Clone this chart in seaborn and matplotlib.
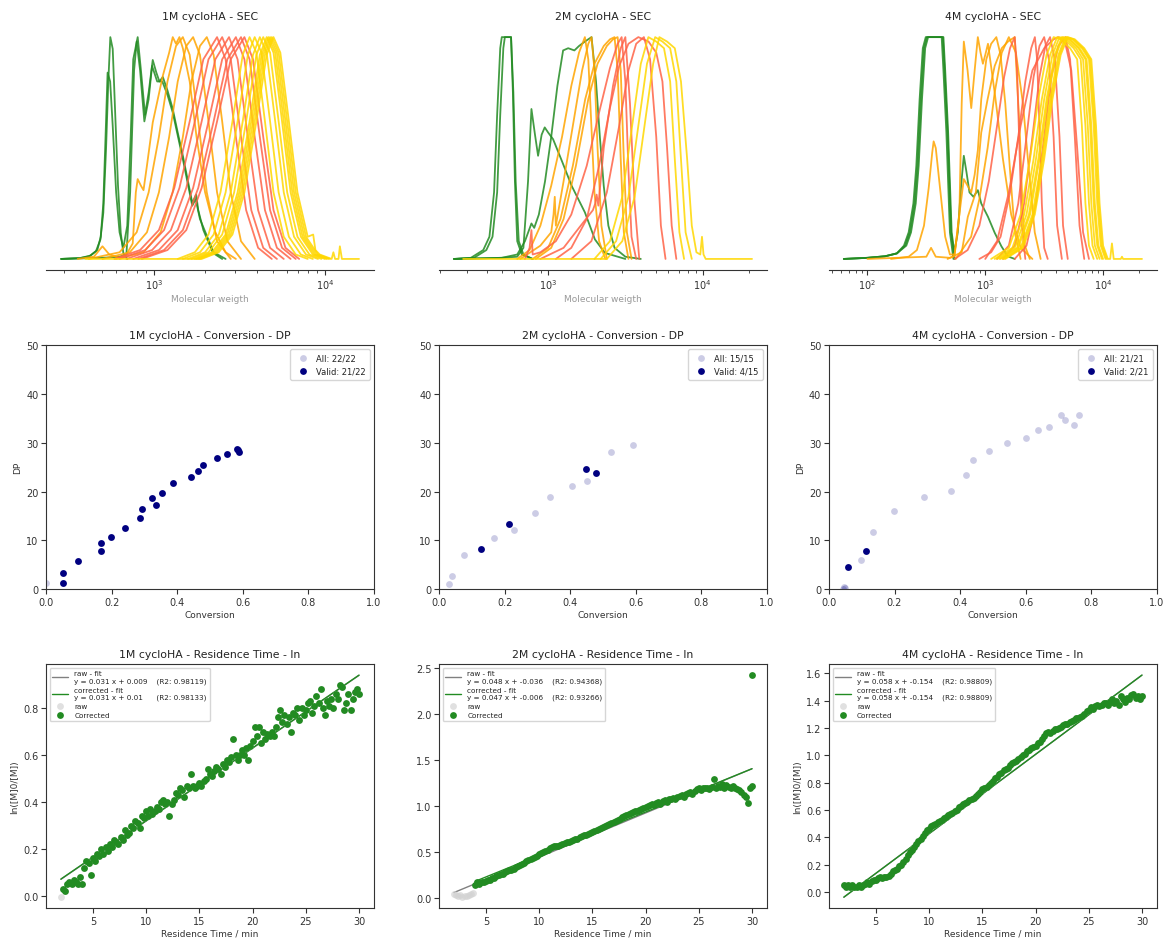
import numpy as np
import pandas as pd
import matplotlib
matplotlib.use("Agg")
import matplotlib.pyplot as plt
import seaborn as sns

GREEN = "forestgreen"
ORANGE = "orange"
RED = "tomato"
GOLD = "gold"

samples = ["1M", "2M", "4M"]

# ---------------------------------------------------------------------------
# SEC traces: knots, log10(MW) and normalised signal
# ---------------------------------------------------------------------------
orange_h_1m = [0, 0.03, 0.12, 0.3, 0.55, 0.8, 0.96, 1.0, 0.92, 0.62, 0.3, 0.08, 0]
red_h_1m = [0, 0.04, 0.13, 0.32, 0.62, 0.9, 1.0, 0.9, 0.55, 0.22, 0.05, 0]
gold_h_1m = [0, 0.03, 0.11, 0.3, 0.62, 0.92, 1.0, 0.93, 0.62, 0.3, 0.1, 0.02, 0]

sec_1m = [
    (GREEN, [2.457, 2.564, 2.623, 2.662, 2.688, 2.705, 2.721, 2.734, 2.746, 2.760, 2.775, 2.791, 2.807, 2.822, 2.845],
     [0, 0.003, 0.012, 0.035, 0.087, 0.208, 0.495, 0.796, 1.0, 0.947, 0.646, 0.329, 0.118, 0.027, 0]),
    (GREEN, [2.46, 2.57, 2.63, 2.67, 2.69, 2.705, 2.718, 2.730, 2.745, 2.76, 2.78, 2.80, 2.822, 2.845, 2.865,
             2.88, 2.906, 2.925, 2.949, 2.97, 2.994, 3.015, 3.033, 3.053, 3.08, 3.111, 3.14, 3.17, 3.20, 3.225,
             3.248, 3.26, 3.29, 3.346, 3.40],
     [0, 0.004, 0.015, 0.04, 0.1, 0.25, 0.55, 0.84, 0.8, 0.6, 0.3, 0.12, 0.05, 0.15, 0.55,
      0.9, 1.0, 0.85, 0.65, 0.75, 0.897, 0.84, 0.80, 0.82, 0.76, 0.676, 0.57, 0.465, 0.35, 0.253,
      0.29, 0.22, 0.13, 0.027, 0]),
    (GREEN, [2.46, 2.70, 2.80, 2.84, 2.862, 2.885, 2.90, 2.92, 2.945, 2.97, 2.99, 3.02, 3.05, 3.08, 3.111,
             3.17, 3.225, 3.245, 3.27, 3.35, 3.42],
     [0, 0.005, 0.01, 0.02, 0.3, 0.85, 0.98, 0.85, 0.62, 0.72, 0.87, 0.80, 0.80, 0.74, 0.66,
      0.45, 0.24, 0.27, 0.18, 0.03, 0]),
    (ORANGE, [2.555, 2.65, 2.70, 2.74, 2.80, 2.84, 2.877, 2.895, 2.906, 2.925, 2.94, 2.96, 2.994, 3.053, 3.09,
              3.111, 3.13, 3.15, 3.17, 3.21, 3.25, 3.30, 3.36, 3.42, 3.48],
     [0, 0.01, 0.057, 0.02, 0.005, 0.02, 0.07, 0.3, 0.36, 0.33, 0.31, 0.42, 0.615, 0.826, 0.93,
      1.0, 0.97, 1.0, 0.95, 0.8, 0.55, 0.3, 0.12, 0.03, 0]),
    (ORANGE, [2.62, 2.80, 2.90, 2.97, 3.03, 3.08, 3.13, 3.17, 3.21, 3.26, 3.31, 3.37, 3.45], orange_h_1m),
    (ORANGE, [2.70, 2.86, 2.96, 3.03, 3.09, 3.14, 3.19, 3.23, 3.27, 3.32, 3.37, 3.43, 3.51], orange_h_1m),
    (ORANGE, [2.78, 2.94, 3.04, 3.11, 3.17, 3.22, 3.27, 3.31, 3.35, 3.40, 3.45, 3.51, 3.59], orange_h_1m),
    (RED, [2.77, 2.92, 3.03, 3.12, 3.21, 3.29, 3.37, 3.42, 3.48, 3.54, 3.61, 3.69], red_h_1m),
    (RED, [2.80, 2.95, 3.06, 3.15, 3.24, 3.32, 3.40, 3.45, 3.51, 3.57, 3.64, 3.72], red_h_1m),
    (RED, [2.84, 2.99, 3.10, 3.19, 3.28, 3.36, 3.44, 3.49, 3.55, 3.61, 3.68, 3.76], red_h_1m),
    (RED, [2.88, 3.03, 3.14, 3.23, 3.32, 3.40, 3.48, 3.53, 3.59, 3.65, 3.72, 3.80], red_h_1m),
    (RED, [2.91, 3.06, 3.17, 3.26, 3.35, 3.43, 3.51, 3.56, 3.62, 3.68, 3.75, 3.83], red_h_1m),
    (RED, [2.93, 3.08, 3.19, 3.28, 3.37, 3.45, 3.53, 3.58, 3.64, 3.70, 3.77, 3.85], red_h_1m),
    (GOLD, [3.14, 3.24, 3.32, 3.39, 3.46, 3.52, 3.56, 3.60, 3.65, 3.70, 3.76, 3.83, 3.90], gold_h_1m),
    (GOLD, [3.17, 3.27, 3.35, 3.42, 3.49, 3.55, 3.59, 3.63, 3.68, 3.73, 3.79, 3.86, 3.93], gold_h_1m),
    (GOLD, [3.20, 3.30, 3.38, 3.45, 3.52, 3.58, 3.62, 3.66, 3.71, 3.76, 3.82, 3.89, 3.96], gold_h_1m),
    (GOLD, [3.22, 3.32, 3.40, 3.47, 3.54, 3.60, 3.64, 3.68, 3.73, 3.78, 3.84, 3.91, 3.98], gold_h_1m),
    (GOLD, [3.24, 3.34, 3.42, 3.49, 3.56, 3.62, 3.66, 3.70, 3.75, 3.80, 3.86, 3.93, 4.00], gold_h_1m),
    (GOLD, [3.25, 3.35, 3.43, 3.50, 3.57, 3.63, 3.67, 3.71, 3.76, 3.81, 3.87, 3.94, 4.01], gold_h_1m),
    (GOLD, [3.26, 3.36, 3.44, 3.51, 3.58, 3.64, 3.68, 3.72, 3.77, 3.82, 3.88, 3.95, 4.02], gold_h_1m),
    (GOLD, [3.27, 3.37, 3.45, 3.52, 3.59, 3.65, 3.69, 3.73, 3.78, 3.83, 3.89, 3.96, 4.03], gold_h_1m),
    (GOLD, [2.60, 3.28, 3.38, 3.46, 3.53, 3.60, 3.66, 3.70, 3.74, 3.79, 3.84, 3.90, 3.932, 3.945, 3.97,
            4.04, 4.05, 4.06, 4.08, 4.088, 4.10, 4.20],
     [0, 0, 0.03, 0.11, 0.3, 0.62, 0.92, 1.0, 0.93, 0.62, 0.3, 0.1, 0.11, 0.04, 0.02,
      0, 0.03, 0, 0, 0.057, 0, 0]),
]

plateau_h_2m = [0, 0.005, 0.04, 0.1, 0.3, 0.65, 0.95, 1.0, 1.0, 0.75, 0.35, 0.08, 0.02, 0]
orange_h_2m = [0, 0.05, 0.18, 0.42, 0.72, 0.88, 0.96, 0.99, 1.0, 0.85, 0.45, 0.12, 0]
red_h_2m = [0, 0.08, 0.3, 0.6, 0.85, 0.97, 1.0, 0.9, 0.55, 0.15, 0]
gold_h_2m = [0, 0.08, 0.28, 0.58, 0.88, 1.0, 0.98, 0.95, 0.8, 0.45, 0.12, 0]

sec_2m = [
    (GREEN, [2.39, 2.50, 2.58, 2.62, 2.65, 2.67, 2.69, 2.70, 2.76, 2.775, 2.79, 2.81, 2.84, 2.90], plateau_h_2m),
    (GREEN, [2.40, 2.52, 2.60, 2.64, 2.67, 2.69, 2.71, 2.72, 2.76, 2.772, 2.785, 2.80, 2.83, 2.90], plateau_h_2m),
    (GREEN, [2.39, 2.70, 2.80, 2.84, 2.87, 2.892, 2.915, 2.935, 2.958, 2.978, 3.0, 3.032, 3.09, 3.152, 3.238,
             3.303, 3.368, 3.50],
     [0, 0.005, 0.01, 0.05, 0.35, 0.676, 0.56, 0.465, 0.56, 0.593, 0.57, 0.54, 0.44, 0.33, 0.21,
      0.088, 0.027, 0]),
    (GREEN, [2.39, 2.70, 2.80, 2.85, 2.892, 2.91, 2.94, 2.98, 3.02, 3.06, 3.097, 3.13, 3.17, 3.20, 3.238,
             3.281, 3.31, 3.335, 3.36, 3.39, 3.43, 3.50, 3.60],
     [0, 0.005, 0.02, 0.08, 0.16, 0.14, 0.2, 0.35, 0.55, 0.78, 0.94, 0.95, 0.94, 0.96, 0.98,
      1.0, 0.8, 0.55, 0.33, 0.15, 0.05, 0.01, 0]),
    (ORANGE, [2.80, 2.88, 2.95, 3.02, 3.09, 3.15, 3.20, 3.238, 3.26, 3.28, 3.30, 3.33, 3.37],
     [0, 0.04, 0.15, 0.33, 0.55, 0.78, 0.93, 1.0, 0.9, 0.6, 0.3, 0.08, 0]),
    (ORANGE, [2.82, 2.95, 3.02, 3.035, 3.043, 3.05, 3.10, 3.16, 3.22, 3.26, 3.281, 3.30, 3.32, 3.345, 3.38],
     [0, 0.06, 0.12, 0.2, 0.28, 0.15, 0.35, 0.6, 0.85, 0.97, 1.0, 0.85, 0.5, 0.15, 0]),
    (ORANGE, [2.90, 3.0, 3.08, 3.16, 3.24, 3.30, 3.36, 3.40, 3.43, 3.45, 3.47, 3.49, 3.52], orange_h_2m),
    (ORANGE, [2.92, 3.02, 3.10, 3.18, 3.26, 3.32, 3.38, 3.42, 3.45, 3.47, 3.49, 3.51, 3.54], orange_h_2m),
    (RED, [2.85, 2.88, 2.892, 2.90, 2.95, 3.05, 3.15, 3.25, 3.33, 3.40, 3.45, 3.476, 3.50, 3.52, 3.54, 3.57],
     [0, 0.05, 0.13, 0.02, 0.03, 0.08, 0.2, 0.42, 0.66, 0.86, 0.97, 1.0, 0.8, 0.4, 0.1, 0]),
    (RED, [2.95, 3.10, 3.20, 3.29, 3.305, 3.314, 3.325, 3.36, 3.42, 3.47, 3.50, 3.53, 3.56, 3.59],
     [0, 0.05, 0.14, 0.22, 0.25, 0.29, 0.24, 0.5, 0.78, 0.95, 1.0, 0.7, 0.25, 0]),
    (RED, [3.05, 3.15, 3.25, 3.33, 3.40, 3.46, 3.52, 3.584, 3.65, 3.70, 3.74, 3.77, 3.80, 3.83],
     [0, 0.05, 0.18, 0.42, 0.68, 0.87, 0.97, 1.0, 0.98, 0.93, 0.8, 0.5, 0.15, 0]),
    (RED, [3.15, 3.28, 3.38, 3.46, 3.52, 3.57, 3.62, 3.66, 3.70, 3.73, 3.76], red_h_2m),
    (GOLD, [3.30, 3.40, 3.48, 3.54, 3.60, 3.649, 3.70, 3.75, 3.79, 3.82, 3.85, 3.88], gold_h_2m),
    (GOLD, [3.34, 3.44, 3.52, 3.58, 3.64, 3.693, 3.74, 3.79, 3.83, 3.86, 3.89, 3.93], gold_h_2m),
    (GOLD, [2.45, 3.38, 3.48, 3.56, 3.62, 3.68, 3.72, 3.77, 3.82, 3.86, 3.90, 3.93, 3.96, 3.985, 3.996,
            4.006, 4.02, 4.32],
     [0, 0, 0.08, 0.28, 0.58, 0.88, 1.0, 0.98, 0.95, 0.8, 0.45, 0.15, 0.03, 0.02, 0.1,
      0.02, 0, 0]),
]

plateau_h_4m = [0, 0.005, 0.012, 0.025, 0.06, 0.12, 0.25, 0.42, 0.72, 0.95, 1.0, 1.0, 0.85, 0.57, 0.12, 0]
red_h_4m = [0, 0.06, 0.25, 0.55, 0.82, 0.96, 1.0, 0.9, 0.55, 0.15, 0]
gold_h_4m = [0, 0.05, 0.2, 0.45, 0.72, 0.92, 1.0, 0.99, 0.95, 0.9, 0.6, 0.25, 0.06, 0]

sec_4m = [
    (GREEN, [1.80, 2.0, 2.15, 2.25, 2.32, 2.36, 2.40, 2.425, 2.453, 2.48, 2.505, 2.64, 2.655, 2.68, 2.71, 2.74],
     plateau_h_4m),
    (GREEN, [1.80, 2.0, 2.15, 2.25, 2.31, 2.35, 2.39, 2.415, 2.443, 2.47, 2.495, 2.63, 2.645, 2.67, 2.70, 2.73],
     plateau_h_4m),
    (GREEN, [1.80, 2.0, 2.15, 2.25, 2.33, 2.37, 2.41, 2.435, 2.463, 2.49, 2.515, 2.645, 2.66, 2.685, 2.715,
             2.738, 2.767, 2.795, 2.818, 2.841, 2.866, 2.90, 2.937, 2.966, 3.023, 3.08, 3.137, 3.19, 3.25],
     [0, 0.005, 0.012, 0.025, 0.06, 0.12, 0.25, 0.42, 0.72, 0.95, 1.0, 1.0, 0.85, 0.57, 0.12,
      0.03, 0.12, 0.33, 0.465, 0.39, 0.30, 0.28, 0.31, 0.25, 0.19, 0.118, 0.057, 0.012, 0]),
    (ORANGE, [2.20, 2.35, 2.42, 2.48, 2.52, 2.55, 2.562, 2.58, 2.62, 2.66, 2.70, 2.74, 2.78, 2.80, 2.818,
              2.85, 2.881, 2.91, 2.937, 2.96, 2.98, 3.0, 3.023, 3.08, 3.15, 3.22, 3.30, 3.40],
     [0, 0.01, 0.04, 0.15, 0.32, 0.48, 0.53, 0.5, 0.3, 0.1, 0.02, 0.02, 0.2, 0.7, 0.98,
      0.85, 0.68, 0.85, 1.0, 0.93, 0.88, 0.92, 0.97, 0.75, 0.45, 0.2, 0.05, 0]),
    (ORANGE, [2.00, 2.50, 2.54, 2.58, 2.70, 2.738, 2.78, 2.818, 2.85, 2.881, 2.91, 2.937, 2.966, 3.009, 3.05,
              3.094, 3.13, 3.17, 3.21, 3.25, 3.30],
     [0, 0.01, 0.05, 0.01, 0.005, 0.012, 0.2, 0.36, 0.33, 0.30, 0.38, 0.49, 0.72, 0.9, 0.97,
      1.0, 0.92, 0.7, 0.4, 0.12, 0]),
    (ORANGE, [2.68, 2.80, 2.852, 2.92, 2.966, 3.02, 3.08, 3.14, 3.193, 3.25, 3.27, 3.293, 3.315, 3.336, 3.378],
     [0, 0.03, 0.19, 0.3, 0.57, 0.72, 0.87, 0.95, 0.98, 1.0, 0.8, 0.57, 0.25, 0.06, 0]),
    (ORANGE, [2.75, 2.88, 2.95, 3.02, 3.08, 3.14, 3.20, 3.26, 3.32, 3.37, 3.42, 3.47],
     [0, 0.1, 0.27, 0.5, 0.75, 0.93, 1.0, 0.93, 0.7, 0.4, 0.12, 0]),
    (RED, [2.74, 2.85, 2.95, 3.03, 3.10, 3.16, 3.21, 3.25, 3.27, 3.29, 3.31, 3.34],
     [0, 0.04, 0.15, 0.35, 0.6, 0.82, 0.95, 1.0, 0.85, 0.5, 0.15, 0]),
    (RED, [2.95, 3.05, 3.13, 3.21, 3.28, 3.34, 3.39, 3.421, 3.44, 3.46, 3.48, 3.50, 3.53],
     [0, 0.03, 0.1, 0.3, 0.55, 0.8, 0.95, 1.0, 0.9, 0.6, 0.25, 0.05, 0]),
    (RED, [3.10, 3.20, 3.28, 3.35, 3.41, 3.46, 3.50, 3.54, 3.58, 3.61, 3.65], red_h_4m),
    (RED, [3.0, 3.10, 3.20, 3.30, 3.40, 3.50, 3.58, 3.62, 3.68, 3.73, 3.78, 3.83, 3.88],
     [0, 0.08, 0.3, 0.6, 0.85, 0.95, 0.99, 1.0, 0.97, 0.85, 0.5, 0.12, 0]),
    (RED, [3.15, 3.25, 3.33, 3.40, 3.46, 3.51, 3.55, 3.59, 3.63, 3.66, 3.70], red_h_4m),
    (RED, [3.25, 3.35, 3.43, 3.50, 3.56, 3.62, 3.68, 3.72, 3.76, 3.80, 3.84], red_h_4m),
    (GOLD, [3.05, 3.20, 3.30, 3.38, 3.45, 3.52, 3.58, 3.64, 3.72, 3.78, 3.82, 3.85, 3.88, 3.92], gold_h_4m),
    (GOLD, [3.08, 3.23, 3.33, 3.41, 3.48, 3.55, 3.61, 3.67, 3.75, 3.81, 3.85, 3.88, 3.91, 3.95], gold_h_4m),
    (GOLD, [3.10, 3.25, 3.35, 3.43, 3.50, 3.57, 3.63, 3.69, 3.77, 3.83, 3.87, 3.90, 3.93, 3.97], gold_h_4m),
    (GOLD, [3.12, 3.27, 3.37, 3.45, 3.52, 3.59, 3.65, 3.71, 3.79, 3.85, 3.89, 3.92, 3.95, 3.99], gold_h_4m),
    (GOLD, [3.13, 3.28, 3.38, 3.46, 3.53, 3.60, 3.66, 3.72, 3.80, 3.86, 3.90, 3.93, 3.96, 4.00], gold_h_4m),
    (GOLD, [3.15, 3.30, 3.40, 3.48, 3.55, 3.62, 3.68, 3.74, 3.82, 3.88, 3.92, 3.95, 3.98, 4.02], gold_h_4m),
    (GOLD, [3.16, 3.31, 3.41, 3.49, 3.56, 3.63, 3.69, 3.75, 3.83, 3.89, 3.93, 3.96, 3.99, 4.03], gold_h_4m),
    (GOLD, [3.17, 3.32, 3.42, 3.50, 3.57, 3.64, 3.70, 3.76, 3.84, 3.90, 3.94, 3.97, 4.00, 4.04, 4.06,
            4.075, 4.09, 4.15, 4.16, 4.17, 4.33],
     [0, 0.05, 0.2, 0.45, 0.72, 0.92, 1.0, 0.99, 0.95, 0.9, 0.6, 0.25, 0.06, 0, 0,
      0.07, 0, 0, 0.01, 0, 0]),
]

# ---------------------------------------------------------------------------
# Conversion vs DP
# ---------------------------------------------------------------------------
conv_1m = [0.0, 0.051, 0.052, 0.099, 0.168, 0.169, 0.198, 0.240, 0.287, 0.294, 0.324, 0.336,
           0.355, 0.388, 0.443, 0.464, 0.480, 0.521, 0.553, 0.582, 0.584, 0.588]
dp_1m = [1.2, 1.3, 3.3, 5.9, 7.8, 9.4, 10.7, 12.6, 14.7, 16.4, 18.6, 17.3,
         19.8, 21.8, 22.9, 24.3, 25.4, 26.8, 27.6, 28.7, 28.6, 28.2]
valid_1m = [0, 1, 1, 1, 1, 1, 1, 1, 1, 1, 1, 1, 1, 1, 1, 1, 1, 1, 1, 1, 1, 1]

conv_2m = [0.032, 0.040, 0.075, 0.127, 0.169, 0.213, 0.229, 0.294, 0.338, 0.407, 0.448, 0.452,
           0.479, 0.524, 0.592]
dp_2m = [1.1, 2.8, 7.0, 8.2, 10.5, 13.4, 12.1, 15.6, 18.8, 21.1, 24.6, 22.2, 23.9, 28.2, 29.5]
valid_2m = [0, 0, 0, 1, 0, 1, 0, 0, 0, 0, 1, 0, 1, 0, 0]

conv_4m = [0.043, 0.045, 0.048, 0.058, 0.097, 0.112, 0.134, 0.198, 0.291, 0.373, 0.418, 0.440,
           0.488, 0.544, 0.600, 0.636, 0.670, 0.709, 0.720, 0.747, 0.762]
dp_4m = [0.0, 0.55, 0.2, 4.5, 6.0, 7.9, 11.8, 16.0, 19.0, 20.2, 23.5, 26.4,
         28.4, 30.0, 31.0, 32.7, 33.2, 35.6, 34.7, 33.6, 35.6]
valid_4m = [0, 0, 0, 1, 0, 1, 0, 0, 0, 0, 0, 0, 0, 0, 0, 0, 0, 0, 0, 0, 0]

# ---------------------------------------------------------------------------
# Residence time vs ln([M]0/[M]); samples every 0.2 min up to 30 min
# ---------------------------------------------------------------------------
raw_start = [2.0, 2.0, 2.0]
corr_start = [2.2, 4.0, 2.0]

raw_1m = [-0.005]
corr_1m = [0.03, 0.02, 0.05, 0.06, 0.05, 0.07, 0.06, 0.05, 0.08, 0.05, 0.12, 0.15, 0.14, 0.09, 0.16,
           0.15, 0.18, 0.17, 0.2, 0.18, 0.21, 0.19, 0.22, 0.21, 0.24, 0.23, 0.22, 0.25, 0.24, 0.28,
           0.26, 0.27, 0.3, 0.29, 0.32, 0.31, 0.29, 0.34, 0.33, 0.36, 0.34, 0.37, 0.35, 0.36, 0.38,
           0.37, 0.4, 0.41, 0.39, 0.4, 0.34, 0.39, 0.41, 0.44, 0.43, 0.46, 0.45, 0.42, 0.47, 0.46,
           0.52, 0.47, 0.46, 0.47, 0.48, 0.47, 0.49, 0.5, 0.54, 0.52, 0.51, 0.53, 0.55, 0.54, 0.52,
           0.56, 0.55, 0.58, 0.57, 0.59, 0.67, 0.6, 0.58, 0.6, 0.62, 0.6, 0.63, 0.58, 0.64, 0.66,
           0.72, 0.68, 0.72, 0.65, 0.7, 0.67, 0.69, 0.68, 0.7, 0.68, 0.72, 0.76, 0.79, 0.74, 0.77,
           0.73, 0.76, 0.7, 0.78, 0.77, 0.8, 0.75, 0.8, 0.77, 0.79, 0.82, 0.83, 0.78, 0.81, 0.85,
           0.82, 0.88, 0.8, 0.77, 0.83, 0.81, 0.84, 0.8, 0.86, 0.84, 0.9, 0.89, 0.79, 0.82, 0.86,
           0.79, 0.84, 0.87, 0.88, 0.86]
raw_1m = raw_1m + corr_1m

raw_2m = [0.04, 0.03, 0.02, 0.03, 0.01, 0.02, 0.02, 0.03, 0.04, 0.05]
corr_2m = [0.14, 0.17, 0.15, 0.18, 0.17, 0.19, 0.2, 0.2, 0.22, 0.22, 0.24, 0.25, 0.26, 0.26, 0.28,
           0.29, 0.3, 0.3, 0.32, 0.34, 0.35, 0.36, 0.37, 0.38, 0.4, 0.41, 0.42, 0.43, 0.45, 0.46,
           0.48, 0.49, 0.5, 0.51, 0.52, 0.54, 0.55, 0.56, 0.56, 0.57, 0.58, 0.59, 0.6, 0.61, 0.61,
           0.62, 0.63, 0.64, 0.64, 0.66, 0.67, 0.68, 0.69, 0.7, 0.71, 0.72, 0.73, 0.74, 0.75, 0.76,
           0.77, 0.78, 0.79, 0.8, 0.82, 0.83, 0.84, 0.85, 0.86, 0.88, 0.89, 0.9, 0.91, 0.92, 0.93,
           0.94, 0.95, 0.96, 0.97, 0.98, 0.99, 1.0, 1.01, 1.02, 1.01, 1.03, 1.04, 1.02, 1.05, 1.06,
           1.04, 1.07, 1.08, 1.09, 1.07, 1.1, 1.11, 1.12, 1.1, 1.13, 1.14, 1.15, 1.13, 1.16, 1.18,
           1.19, 1.17, 1.2, 1.19, 1.2, 1.18, 1.21, 1.29, 1.2, 1.22, 1.21, 1.24, 1.2, 1.23, 1.21,
           1.2, 1.22, 1.19, 1.18, 1.17, 1.15, 1.12, 1.1, 1.03, 1.2, 1.22]
outlier_2m = (30.0, 2.42)

corr_4m = [0.05, 0.04, 0.05, 0.04, 0.05, 0.04, 0.04, 0.05, 0.04, 0.05, 0.06, 0.07, 0.06, 0.08, 0.09,
           0.09, 0.10, 0.11, 0.10, 0.11, 0.11, 0.12, 0.13, 0.15, 0.16, 0.17, 0.19, 0.20, 0.22, 0.24,
           0.27, 0.29, 0.31, 0.33, 0.35, 0.37, 0.39, 0.41, 0.43, 0.45, 0.46, 0.48, 0.49, 0.5, 0.51,
           0.52, 0.53, 0.54, 0.55, 0.56, 0.57, 0.58, 0.59, 0.6, 0.62, 0.63, 0.64, 0.65, 0.66, 0.67,
           0.68, 0.69, 0.7, 0.72, 0.73, 0.75, 0.76, 0.77, 0.78, 0.8, 0.81, 0.83, 0.84, 0.86, 0.87,
           0.89, 0.9, 0.91, 0.93, 0.94, 0.95, 0.96, 0.97, 0.99, 1.0, 1.01, 1.03, 1.04, 1.05, 1.06,
           1.07, 1.09, 1.1, 1.12, 1.14, 1.16, 1.17, 1.16, 1.18, 1.19, 1.19, 1.2, 1.21, 1.22, 1.23,
           1.23, 1.24, 1.25, 1.26, 1.27, 1.27, 1.28, 1.29, 1.3, 1.32, 1.33, 1.35, 1.34, 1.36, 1.37,
           1.36, 1.37, 1.38, 1.38, 1.37, 1.39, 1.41, 1.38, 1.4, 1.37, 1.43, 1.41, 1.39, 1.42, 1.41,
           1.44, 1.45, 1.42, 1.43, 1.41, 1.43]
raw_4m = corr_4m

# fit parameters as printed in the legends
raw_slope = [0.031, 0.048, 0.058]
raw_icpt = [0.009, -0.036, -0.154]
raw_r2 = ["0.98119", "0.94368", "0.98809"]
corr_slope = [0.031, 0.047, 0.058]
corr_icpt = [0.01, -0.006, -0.154]
corr_r2 = ["0.98133", "0.93266", "0.98809"]

# ---------------------------------------------------------------------------
sns.set_style("ticks")
plt.rcParams["font.family"] = ["DejaVu Sans"]
plt.rcParams["axes.edgecolor"] = "#333333"
plt.rcParams["xtick.color"] = "#333333"
plt.rcParams["ytick.color"] = "#333333"
plt.rcParams["text.color"] = "#222222"
plt.rcParams["axes.labelcolor"] = "#333333"

fig = plt.figure(figsize=(11.7, 9.45), dpi=100)

col_left = [0.0393, 0.3752, 0.7085]
col_w = 0.2803
row_bottom = [0.7132, 0.3753, 0.0378]
row_h = [0.2582, 0.2585, 0.2585]


def sec_frame(traces):
    rows = []
    pal = {}
    for i, (col, lx, h) in enumerate(traces):
        key = f"t{i:02d}"
        pal[key] = col
        for a, b in zip(lx, h):
            rows.append({"trace": key, "mw": 10 ** a, "signal": b})
    return pd.DataFrame(rows), pal


def fmt_eq(s, b):
    return f"y = {s} x + {b}"


sec_all = [sec_1m, sec_2m, sec_4m]
conv_all = [conv_1m, conv_2m, conv_4m]
dp_all = [dp_1m, dp_2m, dp_4m]
valid_all = [valid_1m, valid_2m, valid_4m]
raw_all = [raw_1m, raw_2m, raw_4m]
corr_all = [corr_1m, corr_2m, corr_4m]

for i, name in enumerate(samples):
    # --- SEC ---
    ax = fig.add_axes([col_left[i], row_bottom[0], col_w, row_h[0]])
    df, pal = sec_frame(sec_all[i])
    sns.lineplot(data=df, x="mw", y="signal", hue="trace", palette=pal,
                 hue_order=list(pal.keys()), estimator=None, sort=False,
                 legend=False, lw=1.3, alpha=0.85, ax=ax)
    ax.set_xscale("log")
    sns.despine(ax=ax, left=True)
    ax.set_yticks([])
    ax.set_ylabel("")
    ax.set_xlabel("Molecular weigth", fontsize=6.5, color="#999999", labelpad=2)
    ax.tick_params(axis="x", which="major", labelsize=7, length=3.5, pad=2)
    ax.tick_params(axis="x", which="minor", length=2)
    ax.set_title(f"{name} cycloHA - SEC", fontsize=7.8, pad=5)

    # --- conversion / DP ---
    ax = fig.add_axes([col_left[i], row_bottom[1], col_w, row_h[1]])
    n = len(conv_all[i])
    cd = pd.DataFrame({"conv": conv_all[i], "dp": dp_all[i], "valid": valid_all[i]})
    nv = int(cd["valid"].sum())
    sns.scatterplot(data=cd, x="conv", y="dp", color="navy", alpha=0.2, s=24,
                    linewidth=0, label=f"All: {n}/{n}", ax=ax)
    sns.scatterplot(data=cd[cd["valid"] == 1], x="conv", y="dp", color="navy", s=24,
                    linewidth=0, label=f"Valid: {nv}/{n}", ax=ax)
    ax.set_xlim(0, 1)
    ax.set_ylim(0, 50)
    ax.set_xlabel("Conversion", fontsize=6.5, labelpad=2)
    ax.set_ylabel("DP" if i != 1 else "", fontsize=6.5, labelpad=3)
    ax.tick_params(labelsize=7, length=3.5, pad=2)
    ax.set_title(f"{name} cycloHA - Conversion - DP", fontsize=7.8, pad=5)
    ax.legend(loc="upper right", fontsize=6, frameon=True, handletextpad=0.6,
              borderpad=0.5, labelspacing=0.5)

    # --- residence time ---
    ax = fig.add_axes([col_left[i], row_bottom[2], col_w, row_h[2]])
    raw = raw_all[i]
    corr = corr_all[i]
    t_raw_end = 30.0 if i != 1 else 3.8
    t_raw = np.linspace(raw_start[i], t_raw_end, len(raw))
    t_corr = np.linspace(corr_start[i], 30.0, len(corr))
    if i == 1:
        t_corr = np.append(t_corr, outlier_2m[0])
        corr = corr + [outlier_2m[1]]

    tr = np.array([raw_start[i], 30.0])
    tc = np.array([2.0 if i != 1 else corr_start[i], 30.0])
    pad = "    " if len(str(raw_icpt[i])) > 4 else "      "
    ax.plot(tr, raw_slope[i] * tr + raw_icpt[i], color="gray", lw=1.0, zorder=1,
            label=f"raw - fit\n{fmt_eq(raw_slope[i], raw_icpt[i])}    (R2: {raw_r2[i]})")
    pad = "    " if len(str(corr_icpt[i])) > 4 else "      "
    ax.plot(tc, corr_slope[i] * tc + corr_icpt[i], color=GREEN, lw=1.0, zorder=1,
            label=f"corrected - fit\n{fmt_eq(corr_slope[i], corr_icpt[i])}{pad}(R2: {corr_r2[i]})")
    sns.scatterplot(x=t_raw, y=raw, color="lightgray", alpha=0.7, s=24, linewidth=0,
                    label="raw", ax=ax, zorder=2)
    sns.scatterplot(x=t_corr, y=corr, color=GREEN, s=24, linewidth=0,
                    label="Corrected", ax=ax, zorder=3)
    ax.set_xticks([5, 10, 15, 20, 25, 30])
    ax.set_xlabel("Residence Time / min", fontsize=6.5, labelpad=2)
    ax.set_ylabel("ln([M]0/[M])" if i != 1 else "", fontsize=6.5, labelpad=3)
    ax.tick_params(labelsize=7, length=3.5, pad=2)
    ax.set_title(f"{name} cycloHA - Residence Time - ln", fontsize=7.8, pad=5)
    ax.legend(loc="upper left", fontsize=5.2, frameon=True, handlelength=2.2,
              borderpad=0.4, labelspacing=0.4)

fig.savefig("out.png", dpi=100)
